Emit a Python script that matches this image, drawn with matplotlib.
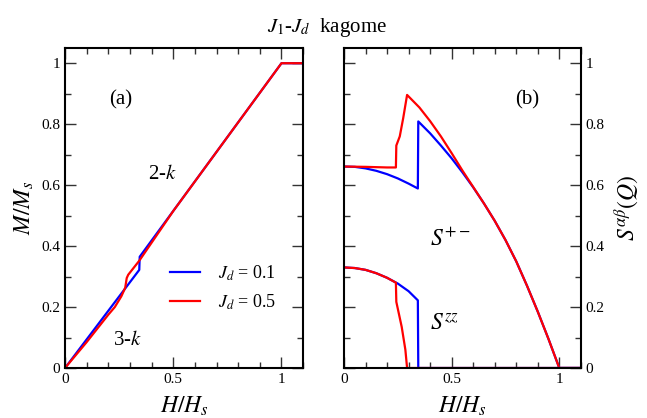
import matplotlib
matplotlib.use('Agg')
import matplotlib.pyplot as plt
from matplotlib.ticker import MultipleLocator

plt.rcParams['font.family'] = 'serif'
plt.rcParams['font.serif'] = ['Liberation Serif', 'DejaVu Serif']
plt.rcParams['mathtext.fontset'] = 'stix'

# (a) magnetization curves
h_m_01 = [0.0, 0.343, 0.345, 1.0, 1.1]
m_01 = [0.0, 0.322, 0.365, 1.0, 1.0]
h_m_05 = [0.0, 0.1, 0.2, 0.23, 0.26, 0.278, 0.285, 0.292, 0.343, 0.5, 1.0, 1.1]
m_05 = [0.0, 0.085, 0.175, 0.20, 0.235, 0.263, 0.295, 0.306, 0.352, 0.515, 1.0, 1.0]

# (b) structure factors, S+-
h_pm_01 = [0.0, 0.05, 0.1, 0.15, 0.2, 0.25, 0.3, 0.343, 0.345, 0.4, 0.45, 0.5,
           0.55, 0.6, 0.65, 0.7, 0.75, 0.8, 0.85, 0.9, 0.95, 1.0, 1.1]
s_pm_01 = [0.661, 0.66, 0.655, 0.647, 0.636, 0.622, 0.605, 0.589, 0.809, 0.77, 0.73, 0.688,
           0.642, 0.593, 0.54, 0.483, 0.42, 0.35, 0.27, 0.185, 0.095, 0.0, 0.0]
h_pm_05 = [0.0, 0.1, 0.2, 0.241, 0.243, 0.259, 0.275, 0.293, 0.35, 0.4, 0.45, 0.5,
           0.55, 0.6, 0.65, 0.7, 0.75, 0.8, 0.85, 0.9, 0.95, 1.0, 1.1]
s_pm_05 = [0.661, 0.66, 0.658, 0.658, 0.73, 0.76, 0.82, 0.896, 0.855, 0.81, 0.76, 0.705,
           0.648, 0.594, 0.54, 0.483, 0.42, 0.35, 0.27, 0.185, 0.095, 0.0, 0.0]

# S^zz
h_zz_01 = [0.0, 0.05, 0.1, 0.15, 0.2, 0.25, 0.3, 0.343, 0.345, 1.1]
s_zz_01 = [0.33, 0.328, 0.322, 0.311, 0.296, 0.277, 0.252, 0.222, 0.0, 0.0]
h_zz_05 = [0.0, 0.05, 0.1, 0.15, 0.2, 0.241, 0.243, 0.268, 0.285, 0.293, 1.1]
s_zz_05 = [0.33, 0.328, 0.322, 0.311, 0.296, 0.28, 0.217, 0.135, 0.06, 0.0, 0.0]

blue = '#0000ff'
red = '#ff0000'

fig = plt.figure(figsize=(6.47, 4.18), dpi=100)
fig.patch.set_facecolor('white')
ax1 = fig.add_axes([0.1005, 0.1196, 0.368, 0.7656])
ax2 = fig.add_axes([0.5317, 0.1196, 0.366, 0.7656])


def style(ax):
    ax.set_xlim(0, 1.1)
    ax.set_ylim(0, 1.05)
    ax.xaxis.set_major_locator(MultipleLocator(0.5))
    ax.xaxis.set_minor_locator(MultipleLocator(0.1))
    ax.yaxis.set_major_locator(MultipleLocator(0.2))
    ax.yaxis.set_minor_locator(MultipleLocator(0.1))
    ax.tick_params(which='both', direction='in', top=True, bottom=True,
                   left=True, right=True, labelsize=11, color='#333333')
    ax.tick_params(which='major', length=8, width=1.0)
    ax.tick_params(which='minor', length=4, width=1.0)
    for sp in ax.spines.values():
        sp.set_linewidth(1.5)
    ax.set_xticks([0, 0.5, 1])
    ax.set_xticklabels(['0', '0.5', '1'])
    ax.set_xlabel(r'$H/H_s$', fontsize=17, labelpad=6)


style(ax1)
ax1.set_yticks([0, 0.2, 0.4, 0.6, 0.8, 1.0])
ax1.set_yticklabels(['0', '0.2', '0.4', '0.6', '0.8', '1'])
ax1.plot(h_m_01, m_01, color=blue, lw=1.6, label=r'$J_d$ = 0.1')
ax1.plot(h_m_05, m_05, color=red, lw=1.6, label=r'$J_d$ = 0.5')
ax1.set_ylabel(r'$M/M_s$', fontsize=17, labelpad=4)
ax1.text(0.255, 0.88, '(a)', fontsize=15, ha='center', va='center')
ax1.text(0.45, 0.635, r'2-$k$', fontsize=15, ha='center', va='center')
ax1.text(0.29, 0.09, r'3-$k$', fontsize=15, ha='center', va='center')
ax1.legend(loc='upper left', bbox_to_anchor=(0.372, 0.378), frameon=False,
           fontsize=13, handlelength=1.67, handletextpad=1.0, labelspacing=0.55)

style(ax2)
ax2.set_yticks([0, 0.2, 0.4, 0.6, 0.8, 1.0])
ax2.set_yticklabels(['0', '0.2', '0.4', '0.6', '0.8', '1'])
ax2.tick_params(labelleft=False, labelright=True)
ax2.plot(h_pm_01, s_pm_01, color=blue, lw=1.6)
ax2.plot(h_pm_05, s_pm_05, color=red, lw=1.6)
ax2.plot(h_zz_01, s_zz_01, color=blue, lw=1.6)
ax2.plot(h_zz_05, s_zz_05, color=red, lw=1.6)
ax2.yaxis.set_label_position('right')
ax2.set_ylabel(r'$S^{\alpha\beta}(Q)$', fontsize=17, rotation=90, labelpad=6)
ax2.text(0.85, 0.88, '(b)', fontsize=15, ha='center', va='center')
ax2.text(0.40, 0.42, r'$S^{+-}$', fontsize=17, ha='left', va='center')
ax2.text(0.40, 0.14, r'$S^{zz}$', fontsize=17, ha='left', va='center')

fig.text(0.505, 0.935, r'$J_1$-$J_d$  kagome', fontsize=15, ha='center', va='center')

fig.savefig('out.png', dpi=100)
